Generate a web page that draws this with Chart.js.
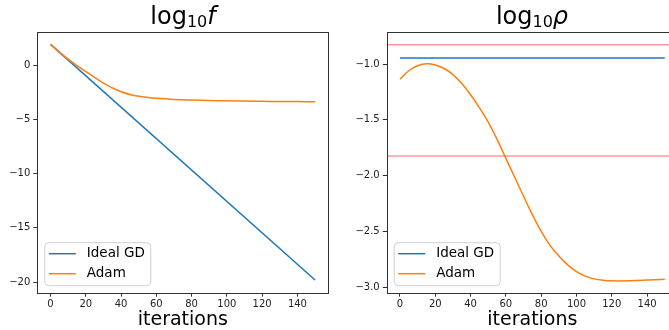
<!DOCTYPE html>
<html>
<head>
<meta charset="utf-8">
<script src="https://cdn.jsdelivr.net/npm/chart.js@4"></script>
<style>
html, body { margin: 0; padding: 0; background: #fff; overflow: hidden; width: 669px; height: 330px; }
.panel { position: absolute; top: 0; height: 330px; }
.ttl { position: absolute; top: 4px; font-family: "DejaVu Sans"; font-size: 24px; line-height: 24px;
       white-space: nowrap; transform: translateX(-50%); color: #000; }
.ttl sub { font-size: 16px; line-height: 0; vertical-align: -3px; }
</style>
</head>
<body>
<div class="panel" style="left:0;width:340px"><canvas id="fChart" width="340" height="330"></canvas></div>
<div class="panel" style="left:340px;width:340px"><canvas id="rhoChart" width="340" height="330"></canvas></div>
<div class="ttl" style="left:183px">log<sub>10</sub><i>f</i></div>
<div class="ttl" style="left:532px">log<sub>10</sub><i>ρ</i></div>

<script>
// x axis
const xTicks = [0, 20, 40, 60, 80, 100, 120, 140];
const xMin = -7.5, xMax = 157.5;

// left panel: log10 f
const gdIters = [0, 150];
const gdF = [1.9, -19.8];
const adamItersF = [0, 5, 10, 15, 20, 25, 30, 35, 40, 45, 50, 55, 60, 70, 80, 90, 100, 110, 120, 130, 140, 150];
const adamF = [1.9, 1.2, 0.55, -0.05, -0.6, -1.15, -1.67, -2.1, -2.46, -2.71, -2.88, -2.99, -3.07, -3.17, -3.23, -3.27, -3.3, -3.32, -3.34, -3.36, -3.37, -3.38];
const fTicks = [0, -5, -10, -15, -20];

// right panel: log10 rho
const gdRho = [-0.946, -0.946];
const adamItersRho = [0, 5, 10, 15, 20, 25, 30, 35, 40, 45, 50, 55, 60, 65, 70, 75, 80, 85, 90, 95, 100, 105, 110, 115, 120, 130, 140, 150];
const adamRho = [-1.137, -1.06, -1.015, -0.997, -1.008, -1.04, -1.095, -1.175, -1.275, -1.39, -1.52, -1.675, -1.845, -2.015, -2.185, -2.35, -2.5, -2.625, -2.72, -2.8, -2.86, -2.9, -2.925, -2.938, -2.943, -2.942, -2.936, -2.928];
const rhoRefs = [-0.827, -1.824];
const rhoTicks = [-1.0, -1.5, -2.0, -2.5, -3.0];

const BLUE = '#1f77b4', ORANGE = '#ff7f0e', RED = 'rgba(255,0,0,0.4)';
const FONT = 'DejaVu Sans';

function pts(xs, ys) {
  return xs.map((x, i) => ({ x: x, y: ys[i] }));
}
function minus(s) {
  return s.replace('-', '\u2212');
}

// box round the plot area, like matplotlib spines
const frame = {
  id: 'frame',
  afterDraw(chart) {
    const a = chart.chartArea, ctx = chart.ctx;
    ctx.save();
    ctx.strokeStyle = '#333';
    ctx.lineWidth = 1;
    ctx.strokeRect(Math.round(a.left) + 0.5, Math.round(a.top) + 0.5,
                   Math.round(a.right - a.left), Math.round(a.bottom - a.top));
    ctx.restore();
  }
};

// legend in the lower left corner
const mplLegend = {
  id: 'mplLegend',
  afterDatasetsDraw(chart) {
    const items = chart.data.datasets.filter(d => d.inLegend);
    const ctx = chart.ctx, a = chart.chartArea;
    const w = 106, h = 43, r = 4;
    const x0 = a.left + 7.5, y0 = a.bottom - 7 - h;
    ctx.save();
    ctx.beginPath();
    ctx.moveTo(x0 + r, y0);
    ctx.arcTo(x0 + w, y0, x0 + w, y0 + h, r);
    ctx.arcTo(x0 + w, y0 + h, x0, y0 + h, r);
    ctx.arcTo(x0, y0 + h, x0, y0, r);
    ctx.arcTo(x0, y0, x0 + w, y0, r);
    ctx.closePath();
    ctx.fillStyle = 'rgba(255,255,255,0.8)';
    ctx.fill();
    ctx.strokeStyle = '#d0d0d0';
    ctx.lineWidth = 1;
    ctx.stroke();
    ctx.font = '13.5px "' + FONT + '"';
    ctx.textBaseline = 'middle';
    items.forEach((d, i) => {
      const y = y0 + 11 + i * 20;
      ctx.beginPath();
      ctx.moveTo(x0 + 4, y);
      ctx.lineTo(x0 + 31, y);
      ctx.strokeStyle = d.borderColor;
      ctx.lineWidth = 1.5;
      ctx.stroke();
      ctx.fillStyle = '#000';
      ctx.fillText(d.label, x0 + 42, y);
    });
    ctx.restore();
  }
};

function makeChart(id, datasets, yMin, yMax, yTicks, yFmt, yWidth, padRight) {
  return new Chart(document.getElementById(id), {
    type: 'line',
    data: { datasets: datasets },
    options: {
      responsive: false,
      animation: false,
      layout: { padding: { left: 0, top: 32, right: padRight, bottom: 0 } },
      plugins: { legend: { display: false }, title: { display: false }, tooltip: { enabled: false } },
      elements: { point: { radius: 0 } },
      scales: {
        x: {
          type: 'linear',
          min: xMin,
          max: xMax,
          afterBuildTicks: s => { s.ticks = xTicks.map(v => ({ value: v })); },
          afterFit: s => { s.height = 37.3; },
          grid: { display: true, drawOnChartArea: false, drawTicks: true, tickLength: 4, color: '#333' },
          border: { display: false },
          ticks: { color: '#222', font: { family: FONT, size: 10 }, padding: 2, maxRotation: 0, autoSkip: false,
                   callback: v => String(v) },
          title: { display: true, text: 'iterations', color: '#000',
                   font: { family: FONT, size: 19, lineHeight: 1 }, padding: { top: 0, bottom: 0 } }
        },
        y: {
          type: 'linear',
          min: yMin,
          max: yMax,
          afterBuildTicks: s => { s.ticks = yTicks.map(v => ({ value: v })); },
          afterFit: s => { s.width = yWidth; },
          grid: { display: true, drawOnChartArea: false, drawTicks: true, tickLength: 4, color: '#333' },
          border: { display: false },
          ticks: { color: '#222', font: { family: FONT, size: 10 }, padding: 3, autoSkip: false,
                   callback: v => minus(yFmt(v)) }
        }
      }
    },
    plugins: [mplLegend, frame]
  });
}

makeChart('fChart', [
  { label: 'Ideal GD', inLegend: true, data: pts(gdIters, gdF), borderColor: BLUE, borderWidth: 1.5, order: 2 },
  { label: 'Adam', inLegend: true, data: pts(adamItersF, adamF), borderColor: ORANGE, borderWidth: 1.5,
    tension: 0.4, order: 1 }
], -20.97, 3.04, fTicks, v => String(v), 37.3, 11.7);

const refSets = rhoRefs.map(lvl => ({
  label: 'ref', inLegend: false, data: pts([xMin, xMax], [lvl, lvl]),
  borderColor: RED, borderWidth: 1.5, order: 3
}));

makeChart('rhoChart', [
  { label: 'Ideal GD', inLegend: true, data: pts(gdIters, gdRho), borderColor: BLUE, borderWidth: 1.5, order: 2 },
  { label: 'Adam', inLegend: true, data: pts(adamItersRho, adamRho), borderColor: ORANGE, borderWidth: 1.5,
    tension: 0.4, order: 1 }
].concat(refSets), -3.049, -0.713, rhoTicks, v => v.toFixed(1), 46.7, 2);
</script>
</body>
</html>
